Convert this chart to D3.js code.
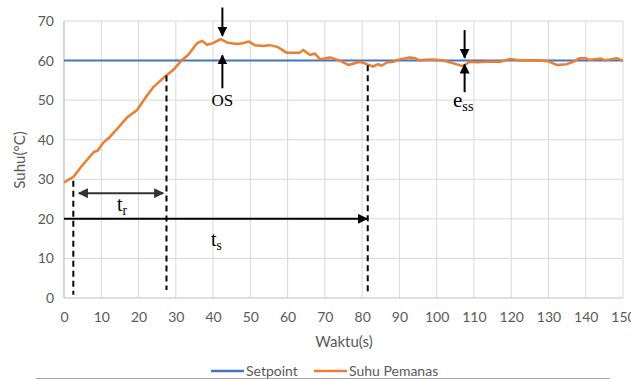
<!DOCTYPE html>
<html>
  <head>
    <meta charset="utf-8">
    <title>Suhu Pemanas</title>
    <script src="https://d3js.org/d3.v7.min.js"></script>
    <style>
      body { margin: 0; background: #fff; }
      svg { display: block; overflow: visible; }
    </style>
  </head>
  <body>
    <svg width="631" height="379"></svg>

    <script>
      // ==================
      // Data
      // ==================
      const xTicks = [0, 10, 20, 30, 40, 50, 60, 70, 80, 90, 100, 110, 120, 130, 140, 150];
      const yTicks = [0, 10, 20, 30, 40, 50, 60, 70];

      const setpoint = 60;

      const waktu = [0, 2.5, 5, 8, 9, 10.5, 12.3, 14.5, 17, 19.6, 22, 24, 27, 29.3, 31.6, 33.3,
        35.7, 37, 38.4, 40, 42, 44, 46.3, 48, 49.6, 51.2, 53.4, 55.3, 57.4, 59.7, 61.5, 63.3,
        64.2, 66, 67.3, 68.7, 71.4, 74, 76.3, 79.4, 81.2, 82.9, 84.3, 85.2, 86.6, 88.3, 90.1,
        92.8, 94.2, 95.5, 97, 99, 101.8, 104.5, 107, 108.9, 111, 113.4, 117, 119.7, 122.4, 125,
        127.7, 130, 132.2, 134.9, 136.5, 138.4, 140, 141, 142, 144, 145, 146.5, 148.3, 150];

      const suhu = [29.2, 30.6, 33.6, 36.9, 37.2, 39.2, 40.7, 43, 45.7, 47.5, 50.8, 53.3, 55.9, 57.6, 60.1, 61.4,
        64.4, 65, 64, 64.4, 65.4, 64.5, 64.2, 64.4, 64.8, 63.9, 63.7, 63.9, 63.4, 62.0, 62.0, 62.0,
        62.7, 61.4, 61.8, 60.3, 60.8, 60, 58.9, 59.7, 59.1, 58.5, 59.1, 58.7, 59.5, 59.7, 60.3,
        60.8, 60.6, 60.0, 60.2, 60.3, 60, 59.3, 58.6, 59.7, 59.6, 59.7, 59.7, 60.4, 60, 60.1,
        60, 59.8, 58.9, 59.1, 59.6, 60.6, 60.6, 60.2, 60.3, 60.5, 60.1, 60.3, 60.6, 59.9];

      const data = waktu.map((t, i) => ({ t: t, v: suhu[i] }));

      const svg = d3.select("svg");

      const x = d3.scaleLinear().domain([0, 150]).range([64, 623]);
      const y = d3.scaleLinear().domain([0, 70]).range([298, 21]);

      const gray = "#595959";
      const gridColor = "#d9d9d9";

      // gridlines
      svg.append("g")
        .selectAll("line")
        .data(xTicks)
        .enter()
        .append("line")
          .attr("x1", d => x(d)).attr("x2", d => x(d))
          .attr("y1", y(0)).attr("y2", y(70))
          .attr("stroke", gridColor)
          .attr("stroke-width", 1);

      svg.append("g")
        .selectAll("line")
        .data(yTicks)
        .enter()
        .append("line")
          .attr("x1", x(0)).attr("x2", x(150))
          .attr("y1", d => y(d)).attr("y2", d => y(d))
          .attr("stroke", d => d === 0 ? "#bfbfbf" : gridColor)
          .attr("stroke-width", 1);

      // left axis line
      svg.append("line")
        .attr("x1", x(0)).attr("x2", x(0))
        .attr("y1", y(0)).attr("y2", y(70))
        .attr("stroke", "#bfbfbf");

      // axes (labels only)
      const xAxis = svg.append("g")
        .attr("transform", `translate(0,${y(0)})`)
        .call(d3.axisBottom(x).tickValues(xTicks).tickSize(0).tickPadding(14));
      xAxis.select(".domain").remove();

      const yAxis = svg.append("g")
        .attr("transform", `translate(${x(0)},0)`)
        .call(d3.axisLeft(y).tickValues(yTicks).tickSize(0).tickPadding(10));
      yAxis.select(".domain").remove();

      svg.selectAll(".tick text")
        .attr("font-family", "Lato, 'Open Sans', sans-serif")
        .attr("font-size", 14)
        .attr("fill", gray);

      // axis titles
      svg.append("text")
        .attr("x", 344).attr("y", 347)
        .attr("text-anchor", "middle")
        .attr("font-family", "Lato, 'Open Sans', sans-serif")
        .attr("font-size", 15)
        .attr("fill", gray)
        .text("Waktu(s)");

      svg.append("text")
        .attr("transform", "translate(25,160) rotate(-90)")
        .attr("text-anchor", "middle")
        .attr("font-family", "Lato, 'Open Sans', sans-serif")
        .attr("font-size", 15)
        .attr("fill", gray)
        .text("Suhu(°C)");

      // series
      svg.append("line")
        .attr("x1", x(0)).attr("x2", x(150))
        .attr("y1", y(setpoint)).attr("y2", y(setpoint))
        .attr("stroke", "#4472c4")
        .attr("stroke-width", 2);

      const line = d3.line()
        .x(d => x(d.t))
        .y(d => y(d.v));

      svg.append("path")
        .datum(data)
        .attr("d", line)
        .attr("fill", "none")
        .attr("stroke", "#ed7d31")
        .attr("stroke-width", 2.5)
        .attr("stroke-linejoin", "round");

      // ==================
      // Annotations
      // ==================
      const defs = svg.append("defs");
      function marker(id, color) {
        defs.append("marker")
          .attr("id", id)
          .attr("viewBox", "0 0 10 10")
          .attr("refX", 9).attr("refY", 5)
          .attr("markerWidth", 5).attr("markerHeight", 5)
          .attr("markerUnits", "strokeWidth")
          .attr("orient", "auto-start-reverse")
          .append("path")
            .attr("d", "M0,0 L10,5 L0,10 Z")
            .attr("fill", color);
      }
      marker("arrBlack", "#000");
      marker("arrGray", "#333");

      // dashed verticals
      const dashed = [[2.5, 29.6, 0.8], [27.5, 56.2, 2], [81.5, 58.8, 1.2]];
      svg.append("g")
        .selectAll("line")
        .data(dashed)
        .enter()
        .append("line")
          .attr("x1", d => x(d[0])).attr("x2", d => x(d[0]))
          .attr("y1", d => y(d[1])).attr("y2", d => y(d[2]))
          .attr("stroke", "#000")
          .attr("stroke-width", 2)
          .attr("stroke-dasharray", "6,4");

      // rise time arrow
      svg.append("line")
        .attr("x1", x(4)).attr("x2", x(26.6))
        .attr("y1", y(26.5)).attr("y2", y(26.5))
        .attr("stroke", "#333")
        .attr("stroke-width", 2)
        .attr("marker-start", "url(#arrGray)")
        .attr("marker-end", "url(#arrGray)");

      // settling time arrow
      svg.append("line")
        .attr("x1", x(0)).attr("x2", x(81.3))
        .attr("y1", y(20)).attr("y2", y(20))
        .attr("stroke", "#000")
        .attr("stroke-width", 2)
        .attr("marker-end", "url(#arrBlack)");

      // vertical arrows: [t, from, to]
      const vArrows = [[42.5, 73.4, 66.3], [42.5, 53.0, 61.3], [107.5, 67.7, 60.7], [107.5, 52.0, 59.0]];
      svg.append("g")
        .selectAll("line")
        .data(vArrows)
        .enter()
        .append("line")
          .attr("x1", d => x(d[0])).attr("x2", d => x(d[0]))
          .attr("y1", d => y(d[1])).attr("y2", d => y(d[2]))
          .attr("stroke", "#000")
          .attr("stroke-width", 2)
          .attr("marker-end", "url(#arrBlack)");

      const serif = "'Liberation Serif', 'DejaVu Serif', serif";

      svg.append("text")
        .attr("x", x(42.5)).attr("y", 106)
        .attr("text-anchor", "middle")
        .attr("font-family", serif)
        .attr("font-size", 17)
        .text("OS");

      function subLabel(px, py, main, sub, size) {
        const t = svg.append("text")
          .attr("x", px).attr("y", py)
          .attr("font-family", serif)
          .attr("font-size", size);
        t.append("tspan").text(main);
        t.append("tspan").attr("font-size", size * 0.68).attr("dy", 4).text(sub);
      }
      subLabel(117, 211, "t", "r", 20);
      subLabel(211, 246, "t", "s", 20);
      subLabel(453, 107, "e", "ss", 21);

      // legend
      const legend = [["Setpoint", "#4472c4", 211], ["Suhu Pemanas", "#ed7d31", 314]];
      legend.forEach(l => {
        svg.append("line")
          .attr("x1", l[2]).attr("x2", l[2] + 33)
          .attr("y1", 371).attr("y2", 371)
          .attr("stroke", l[1])
          .attr("stroke-width", 2.5);
        svg.append("text")
          .attr("x", l[2] + 35).attr("y", 376)
          .attr("font-family", "Lato, 'Open Sans', sans-serif")
          .attr("font-size", 14)
          .attr("fill", gray)
          .text(l[0]);
      });

      // bottom rule
      svg.append("line")
        .attr("x1", 36).attr("x2", 610)
        .attr("y1", 378.5).attr("y2", 378.5)
        .attr("stroke", "#a6a6a6")
        .attr("stroke-width", 1);
    </script>
  </body>
</html>
